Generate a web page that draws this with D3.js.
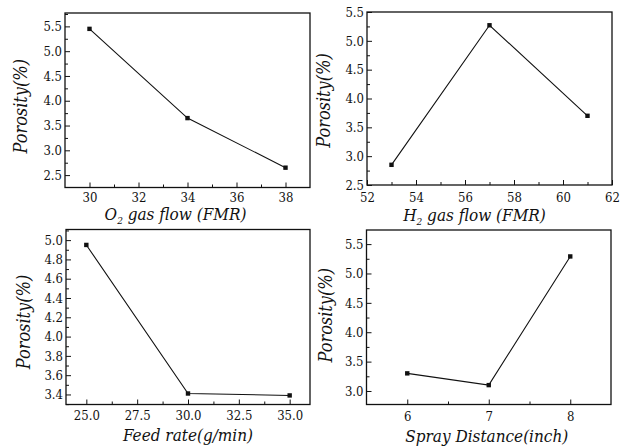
<!DOCTYPE html>
<html>
<head>
<meta charset="utf-8">
<script src="https://cdn.jsdelivr.net/npm/d3@7"></script>
<style>
  html, body { margin: 0; padding: 0; background: #fff; }
  svg { display: block; }
</style>
</head>
<body>
<svg id="chart" width="627" height="448"></svg>
<script>
// ---- data ----
const o2Flow = [30, 34, 38];
const o2Porosity = [5.45, 3.65, 2.65];

const h2Flow = [53, 57, 61];
const h2Porosity = [2.85, 5.27, 3.70];

const feedRate = [25, 30, 35];
const feedPorosity = [4.95, 3.41, 3.39];

const sprayDistance = [6, 7, 8];
const sprayPorosity = [3.30, 3.10, 5.29];

const o2XTicks = [30, 32, 34, 36, 38];
const o2YTicks = [2.5, 3.0, 3.5, 4.0, 4.5, 5.0, 5.5];
const h2XTicks = [52, 54, 56, 58, 60, 62];
const h2YTicks = [2.5, 3.0, 3.5, 4.0, 4.5, 5.0, 5.5];
const feedXTicks = [25.0, 27.5, 30.0, 32.5, 35.0];
const feedYTicks = [3.4, 3.6, 3.8, 4.0, 4.2, 4.4, 4.6, 4.8, 5.0];
const sprayXTicks = [6, 7, 8];
const sprayYTicks = [3.0, 3.5, 4.0, 4.5, 5.0, 5.5];

const yTitle = "Porosity(%)";

// ---- layout ----
const FONT = "'DejaVu Serif Condensed', 'DejaVu Serif', serif";
const panels = [
  { x: o2Flow, y: o2Porosity, xt: o2XTicks, yt: o2YTicks, xDom: [29, 39], yDom: [2.25, 5.77],
    box: [65, 13, 310, 187.5], xFmt: d3.format("d"), yFmt: d3.format(".1f"),
    title: ["O", "2", " gas flow (FMR)"], titleDx: -12, titleY: 220, tickY: 202, yTitleX: 27, yTitleDy: 6 },
  { x: h2Flow, y: h2Porosity, xt: h2XTicks, yt: h2YTicks, xDom: [52, 62], yDom: [2.5, 5.5],
    box: [367, 12, 612, 185], xFmt: d3.format("d"), yFmt: d3.format(".1f"),
    title: ["H", "2", " gas flow (FMR)"], titleDx: -15, titleY: 221, tickY: 202, yTitleX: 330, yTitleDy: 2 },
  { x: feedRate, y: feedPorosity, xt: feedXTicks, yt: feedYTicks, xDom: [24, 36], yDom: [3.296, 5.11],
    box: [66, 229.5, 310, 404.5], xFmt: d3.format(".1f"), yFmt: d3.format(".1f"),
    title: ["Feed rate(g/min)"], titleDx: 0, titleY: 441, tickY: 420, yTitleX: 30, yTitleDy: 5 },
  { x: sprayDistance, y: sprayPorosity, xt: sprayXTicks, yt: sprayYTicks, xDom: [5.5, 8.5], yDom: [2.77, 5.74],
    box: [366.5, 230, 611, 404.5], xFmt: d3.format("d"), yFmt: d3.format(".1f"),
    title: ["Spray Distance(inch)"], titleDx: -2, titleY: 442, tickY: 421, yTitleX: 332, yTitleDy: -2 }
];

const svg = d3.select("#chart");

function midpoints(ticks) {
  const out = [];
  for (let i = 0; i < ticks.length - 1; i++) out.push((ticks[i] + ticks[i + 1]) / 2);
  return out;
}

panels.forEach(p => {
  const [x0, y0, x1, y1] = p.box;
  const xs = d3.scaleLinear().domain(p.xDom).range([x0, x1]);
  const ys = d3.scaleLinear().domain(p.yDom).range([y1, y0]);
  const g = svg.append("g");

  g.append("rect").attr("x", x0).attr("y", y0).attr("width", x1 - x0).attr("height", y1 - y0)
    .attr("fill", "none").attr("stroke", "#111").attr("stroke-width", 1.3);

  const xAxis = d3.axisBottom(xs).tickValues(p.xt).tickSize(-5).tickFormat(p.xFmt).tickPadding(0);
  const xg = g.append("g").attr("transform", `translate(0,${y1})`).call(xAxis);
  xg.select(".domain").remove();
  xg.selectAll("line").attr("stroke", "#111");
  xg.selectAll("text").attr("y", p.tickY - y1).attr("dy", 0).attr("font-size", 13);
  const xMinor = d3.axisBottom(xs).tickValues(midpoints(p.xt).concat(
      [p.xt[0] - (p.xt[1] - p.xt[0]) / 2, p.xt[p.xt.length - 1] + (p.xt[1] - p.xt[0]) / 2]
        .filter(v => v > p.xDom[0] && v < p.xDom[1])))
    .tickSize(-3).tickFormat("");
  const xmg = g.append("g").attr("transform", `translate(0,${y1})`).call(xMinor);
  xmg.select(".domain").remove();
  xmg.selectAll("line").attr("stroke", "#111");

  const yAxis = d3.axisLeft(ys).tickValues(p.yt).tickSize(-5).tickFormat(p.yFmt).tickPadding(4);
  const yg = g.append("g").attr("transform", `translate(${x0},0)`).call(yAxis);
  yg.select(".domain").remove();
  yg.selectAll("line").attr("stroke", "#111");
  yg.selectAll("text").attr("x", -3).attr("font-size", 13);
  const yStep = p.yt[1] - p.yt[0];
  const yMinor = d3.axisLeft(ys).tickValues(midpoints(p.yt).concat(
      [p.yt[0] - yStep / 2, p.yt[p.yt.length - 1] + yStep / 2]
        .filter(v => v > p.yDom[0] && v < p.yDom[1])))
    .tickSize(-3).tickFormat("");
  const ymg = g.append("g").attr("transform", `translate(${x0},0)`).call(yMinor);
  ymg.select(".domain").remove();
  ymg.selectAll("line").attr("stroke", "#111");

  const pts = p.x.map((v, i) => [v, p.y[i]]);
  g.append("path").datum(pts)
    .attr("d", d3.line().x(d => xs(d[0])).y(d => ys(d[1])))
    .attr("fill", "none").attr("stroke", "#111").attr("stroke-width", 1.1);
  g.selectAll("rect.pt").data(pts).enter().append("rect").attr("class", "pt")
    .attr("x", d => xs(d[0]) - 2.2).attr("y", d => ys(d[1]) - 2.2)
    .attr("width", 4.4).attr("height", 4.4).attr("fill", "#111");

  const t = g.append("text").attr("x", (x0 + x1) / 2 + p.titleDx).attr("y", p.titleY)
    .attr("text-anchor", "middle").attr("font-size", 17).attr("font-style", "italic");
  if (p.title.length === 3) {
    t.append("tspan").text(p.title[0]);
    t.append("tspan").text(p.title[1]).attr("font-size", 10).attr("dy", 4);
    t.append("tspan").text(p.title[2]).attr("dy", -4);
  } else {
    t.text(p.title[0]);
  }

  g.append("text")
    .attr("transform", `translate(${p.yTitleX},${(y0 + y1) / 2 + p.yTitleDy}) rotate(-90)`)
    .attr("text-anchor", "middle").attr("font-size", 18).attr("font-style", "italic")
    .text(yTitle);
});

svg.selectAll("g").attr("font-family", FONT);
svg.selectAll("text").attr("font-family", FONT).attr("fill", "#111");
</script>
</body>
</html>
